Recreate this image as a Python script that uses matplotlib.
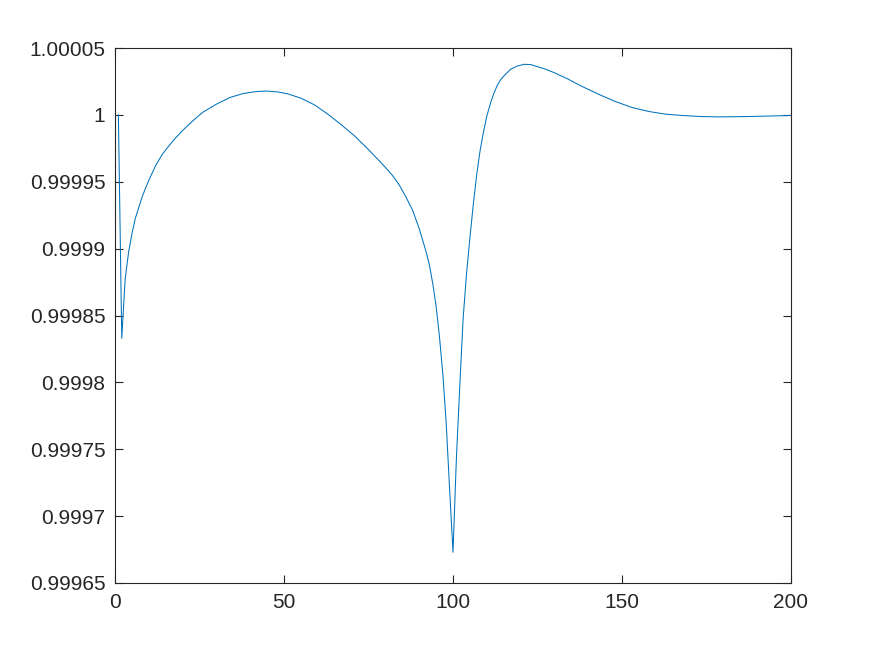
import matplotlib.pyplot as plt

# values
x = [1, 2, 3, 4, 5, 6, 7, 8, 9, 10, 12, 14, 16, 18, 20, 23, 26, 30, 34, 38,
     42, 45, 48, 51, 55, 59, 63, 67, 71, 75, 79, 82, 84, 86, 88, 90, 92, 93,
     94, 95, 96, 97, 98, 99, 100, 101, 102, 103, 104, 105, 106, 107, 108,
     109, 110, 111, 112, 113, 114, 115, 117, 119, 121, 123, 125, 127, 130,
     134, 138, 143, 148, 153, 158, 163, 168, 173, 178, 183, 188, 193, 198,
     200]
y = [1.0, 0.999833, 0.999877, 0.999897, 0.999911, 0.9999225, 0.9999305,
     0.9999385, 0.999945, 0.999951, 0.999962, 0.9999705, 0.999977,
     0.999983, 0.9999883, 0.9999955, 1.000002, 1.000008, 1.000013,
     1.000016, 1.0000175, 1.0000178, 1.0000172, 1.0000158, 1.0000125,
     1.0000075, 1.0000005, 0.9999925, 0.999984, 0.999974, 0.9999635,
     0.999955, 0.999948, 0.999939, 0.999929, 0.999915, 0.999898, 0.999888,
     0.999874, 0.999857, 0.999834, 0.999806, 0.999769, 0.99972, 0.999673,
     0.999743, 0.999797, 0.999848, 0.999881, 0.999908, 0.999933, 0.999955,
     0.999973, 0.999987, 0.999999, 1.000008, 1.0000155, 1.0000215,
     1.000026, 1.000029, 1.000034, 1.0000365, 1.0000378, 1.0000376,
     1.000036, 1.0000345, 1.0000315, 1.0000268, 1.0000215, 1.0000155,
     1.00001, 1.0000055, 1.0000025, 1.0000005, 0.9999995, 0.9999988,
     0.9999985, 0.9999986, 0.9999988, 0.9999991, 0.9999994, 0.9999996]

xticks = [0, 50, 100, 150, 200]
yticks = [0.99965, 0.9997, 0.99975, 0.9998, 0.99985, 0.9999, 0.99995, 1.0,
          1.00005]
ylabels = ["0.99965", "0.9997", "0.99975", "0.9998", "0.99985", "0.9999",
           "0.99995", "1", "1.00005"]

plt.rcParams['font.family'] = ['Liberation Sans', 'DejaVu Sans']
axc = '#262626'

fig = plt.figure(figsize=(8.75, 6.56), dpi=100)
ax = fig.add_axes([115/875, 73/656, 676/875, 535/656])
ax.plot(x, y, color='#0072BD', linewidth=0.75)

ax.set_xlim(0, 200)
ax.set_ylim(0.99965, 1.00005)
ax.set_xticks(xticks)
ax.set_xticklabels([str(t) for t in xticks])
ax.set_yticks(yticks)
ax.set_yticklabels(ylabels)

ax.tick_params(direction='in', length=6, width=0.8, colors=axc,
               labelsize=15, top=True, right=True, pad=7)
for s in ax.spines.values():
    s.set_color(axc)
    s.set_linewidth(0.8)

fig.savefig('out.png', dpi=100)
